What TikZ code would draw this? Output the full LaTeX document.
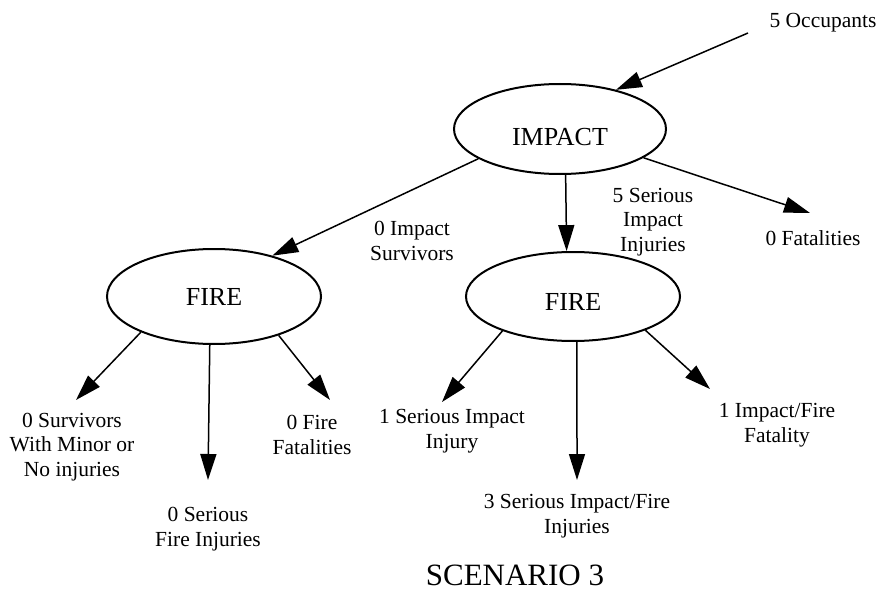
\documentclass[tikz,border=0pt]{standalone}
\usepackage{fontspec}
\setmainfont{Liberation Serif}
\usetikzlibrary{shapes.geometric,arrows.meta}
\begin{document}
\begin{tikzpicture}[x=1pt,y=-1pt,
  evt/.style={ellipse,draw,line width=2pt,inner sep=0pt,text depth=0pt,font=\fontsize{26}{30}\selectfont},
  lbl/.style={align=center,inner sep=0pt,font=\fontsize{21.5}{24.5}\selectfont},
  arr/.style={line width=1.5pt,-{Triangle[length=26pt,width=16pt]}}]
\useasboundingbox (0,0) rectangle (878,607);
% events
\node[evt,minimum width=212pt,minimum height=90pt,text height=34pt] (imp) at (560,129) {IMPACT};
\node[evt,minimum width=214pt,minimum height=95pt,text height=17pt] (fireL) at (214,296.5) {FIRE};
\node[evt,minimum width=214pt,minimum height=89pt,text height=27pt] (fireR) at (573,296.5) {FIRE};
% labels
\node[lbl] (occ) at (823,23) {5 Occupants};
\node[lbl] (sia) at (412,241) {0 Impact\\Survivors};
\node[lbl] (ssi) at (653,222) {5 Serious\\Impact\\Injuries};
\node[lbl] (fat) at (813,238) {0 Fatalities};
\node[lbl] (l1) at (72,447) {0 Survivors\\With Minor or\\No injuries};
\node[lbl] (l2) at (208,529) {0 Serious\\Fire Injuries};
\node[lbl] (l3) at (312,435) {0 Fire\\Fatalities};
\node[lbl] (r1) at (452,431) {1 Serious Impact\\Injury};
\node[lbl] (r2) at (577,516) {3 Serious Impact/Fire\\Injuries};
\node[lbl] (r3) at (777,425) {1 Impact/Fire\\Fatality};
\node[inner sep=0pt,font=\fontsize{31}{36}\selectfont] (title) at (515,575) {SCENARIO 3};
% free ends
\coordinate (cocc) at (748,33);
\coordinate (cfat) at (810,213);
\coordinate (cl1) at (76,400);
\coordinate (cl2) at (208,480);
\coordinate (cl3) at (330,400);
\coordinate (cr1) at (442,402);
\coordinate (cr2) at (577,480);
\coordinate (cr3) at (710,389);
% connectors
\draw[arr] (cocc) -- (imp.35);
\draw[arr] (imp.200) -- (fireL.35);
\draw[arr] (imp.-83) -- (fireR.98);
\draw[arr] (imp.-19) -- (cfat);
\draw[arr] (fireL.206) -- (cl1);
\draw[arr] (fireL.-95) -- (cl2);
\draw[arr] (fireL.-31) -- (cl3);
\draw[arr] (fireR.206) -- (cr1);
\draw[arr] (fireR.-85) -- (cr2);
\draw[arr] (fireR.-25) -- (cr3);
\end{tikzpicture}
\end{document}
